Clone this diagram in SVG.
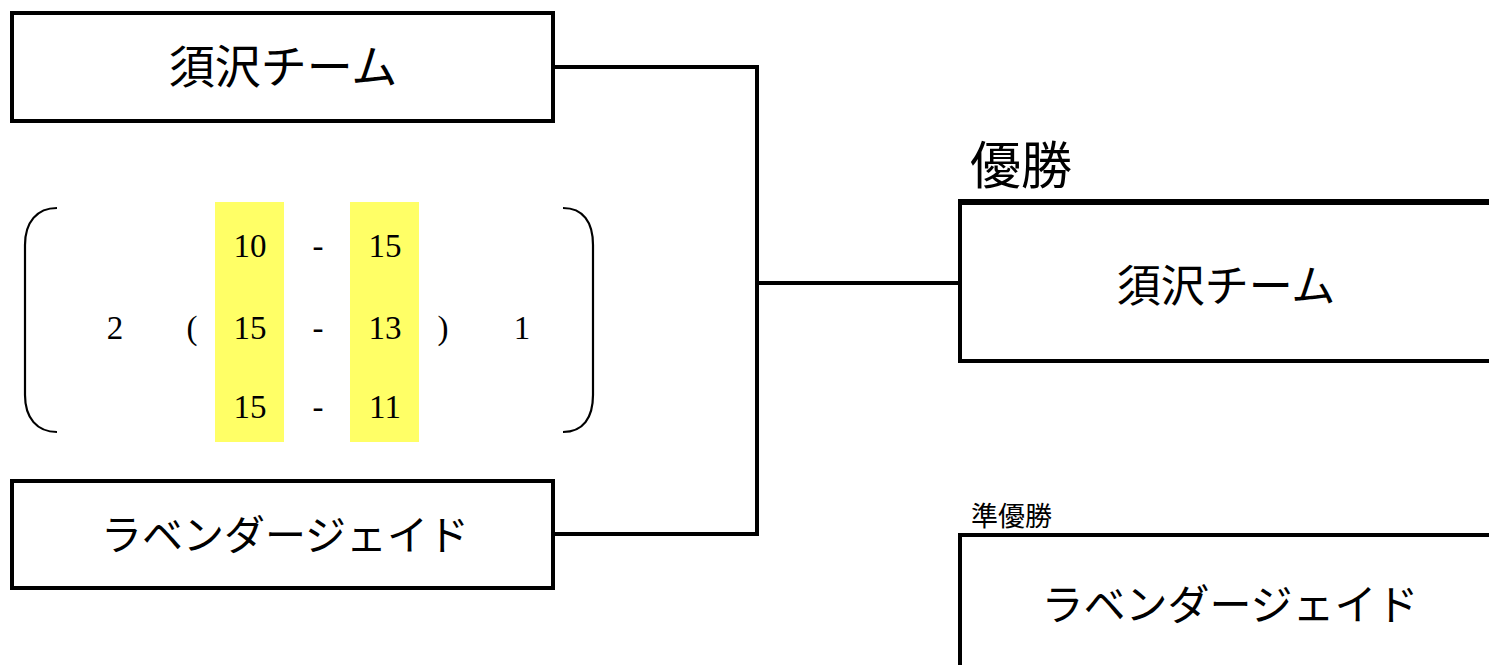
<svg xmlns="http://www.w3.org/2000/svg" width="1489" height="665" viewBox="0 0 1489 665">
<style>
.box{fill:#fff;stroke:#000;stroke-width:4}
.ln{fill:none;stroke:#000;stroke-width:4}
.jp{font-family:"Noto Sans CJK JP","Noto Sans",sans-serif;fill:#000}
.num{font-family:"Liberation Serif","DejaVu Serif",serif;font-size:33px;fill:#000;text-anchor:middle}
.br{fill:none;stroke:#000;stroke-width:2.2}
.hl{fill:#ffff66}
</style>
<rect width="1489" height="665" fill="#fff"/>
<g id="connectors">
<polyline class="ln" points="553,67 757,67 757,534 553,534"/>
<line class="ln" x1="757" y1="283" x2="960" y2="283"/>
</g>
<g id="team1">
<rect class="box" x="12" y="13" width="541" height="108"/>
<text class="jp" x="283" y="83" font-size="46" text-anchor="middle">須沢チーム</text>
</g>
<g id="team2">
<rect class="box" x="12" y="481" width="541" height="107"/>
<text class="jp" x="285" y="550" font-size="41" text-anchor="middle">ラベンダージェイド</text>
</g>
<g id="score">
<rect class="hl" x="215" y="202" width="69" height="240"/>
<rect class="hl" x="350" y="202" width="69" height="240"/>
<path class="br" d="M57,208 C37,208 25,222 25,245 L25,395 C25,418 37,432 57,432"/>
<path class="br" d="M563,208 C583,208 593,222 593,245 L593,395 C593,418 583,432 563,432"/>
<text class="num" x="250" y="257">10</text>
<text class="num" x="318" y="257">-</text>
<text class="num" x="385" y="257">15</text>
<text class="num" x="115" y="339">2</text>
<text class="num" x="192" y="339">(</text>
<text class="num" x="250" y="339">15</text>
<text class="num" x="318" y="339">-</text>
<text class="num" x="385" y="339">13</text>
<text class="num" x="443" y="339">)</text>
<text class="num" x="522" y="339">1</text>
<text class="num" x="250" y="418">15</text>
<text class="num" x="318" y="418">-</text>
<text class="num" x="385" y="418">11</text>
</g>
<g id="winner">
<text class="jp" x="970" y="184" font-size="51">優勝</text>
<rect class="box" x="960" y="202" width="560" height="159"/>
<line x1="958" y1="202" x2="1489" y2="202" stroke="#000" stroke-width="6"/>
<text class="jp" x="1226" y="302" font-size="44" text-anchor="middle">須沢チーム</text>
</g>
<g id="runnerup">
<text class="jp" x="971" y="526" font-size="27">準優勝</text>
<rect class="box" x="960" y="535" width="560" height="160"/>
<text class="jp" x="1230" y="620" font-size="42" text-anchor="middle">ラベンダージェイド</text>
</g>
</svg>
